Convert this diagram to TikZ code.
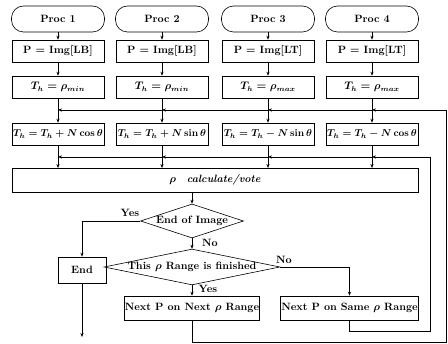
\documentclass[tikz,border=0pt]{standalone}
\usetikzlibrary{shapes.geometric,arrows.meta}
\begin{document}
\begin{tikzpicture}[x=1pt,y=-1pt,
  txt/.style={font=\fontsize{10.6}{12}\selectfont\bfseries\boldmath},
  base/.style={draw, line width=0.6pt, txt, inner sep=0.5pt, align=center},
  procbox/.style={base, rounded corners=12pt, minimum width=93pt, minimum height=26pt},
  stepbox/.style={base, minimum width=92pt, minimum height=22pt},
  updbox/.style={stepbox, inner sep=0pt, font=\fontsize{10.2}{12}\selectfont\bfseries\boldmath},
  decision/.style={base, diamond, inner sep=0pt},
  lbl/.style={txt, inner sep=0pt},
  wire/.style={line width=0.6pt},
  flow/.style={line width=0.6pt, -{Stealth[length=4pt,width=3.2pt]}}]
\useasboundingbox (0,0) rectangle (448,344);

% four parallel processes
\foreach \i/\x/\img/\th/\upd in {
  1/58/LB/{\rho_{min}}/{+ N\cos\theta},
  2/162/LB/{\rho_{min}}/{+ N\sin\theta},
  3/268/LT/{\rho_{max}}/{- N\sin\theta},
  4/372/LT/{\rho_{max}}/{- N\cos\theta}} {
  \node[procbox] (proc\i) at (\x,19) {Proc \i};
  \node[stepbox] (img\i) at (\x,51) {P = Img[\img]};
  \node[stepbox] (th\i) at (\x,87) {$T_h = \th$};
  \node[updbox] (tn\i) at (\x,134) {$T_h = T_h \upd$};
  \coordinate (ja\i) at (\x,110);
  \coordinate (jb\i) at (\x,157);
  \draw[flow] (proc\i) -- (img\i);
  \draw[flow] (img\i) -- (th\i);
  \draw[flow] (th\i) -- (tn\i);
  \draw[flow] (tn\i) -- (tn\i.south |- 0,168);
}

\node[stepbox, minimum width=406pt, minimum height=24pt] (rho) at (215,180)
  {$\rho$\quad\textit{calculate/vote}};

\node[decision, minimum width=103pt, minimum height=34pt, shape aspect=3] (d1) at (192,221) {End of Image};
\node[decision, minimum width=172pt, minimum height=35pt, shape aspect=4.9] (d2) at (192,267) {This $\rho$ Range is finished};

\node[stepbox, minimum width=48pt, minimum height=26pt] (endb) at (82,270) {End};
\node[stepbox, minimum width=131pt, minimum height=24pt] (nn) at (192,308) {Next P on Next $\rho$ Range};
\node[stepbox, minimum width=129pt, minimum height=24pt] (ns) at (349.5,308) {Next P on Same $\rho$ Range};

\coordinate (fin) at (82,337);
\coordinate (oc2) at (446,342);
\coordinate (oc3) at (446,110);
\coordinate (ic2) at (430,331);
\coordinate (ic3) at (430,157);

% decisions
\draw[flow] (d1.north |- rho.south) -- (d1.north);
\draw[flow] (d1.west) -| (endb.north);
\draw[flow] (endb) -- (fin);
\draw[flow] (d1) -- (d2);
\draw[flow] (d2.east) -| (ns.north);
\draw[flow] (d2) -- (nn);

\node[lbl] (yes1) at (130,213) {Yes};
\node[lbl] (no1) at (210,243) {No};
\node[lbl] (no2) at (284,260) {No};
\node[lbl] (yes2) at (208,289) {Yes};

% outer loop: next range goes back to the threshold updates
\draw[wire] (nn.south) |- (oc2) -- (oc3);
\draw[flow] (oc3) -- (ja4);
\draw[flow] (ja4) -- (ja3);
\draw[flow] (ja3) -- (ja2);
\draw[flow] (ja2) -- (ja1);

% inner loop: same range goes back to the vote
\draw[wire] (ns.south) |- (ic2) -- (ic3);
\draw[flow] (ic3) -- (jb4);
\draw[flow] (jb4) -- (jb3);
\draw[flow] (jb3) -- (jb2);
\draw[flow] (jb2) -- (jb1);
\end{tikzpicture}
\end{document}
